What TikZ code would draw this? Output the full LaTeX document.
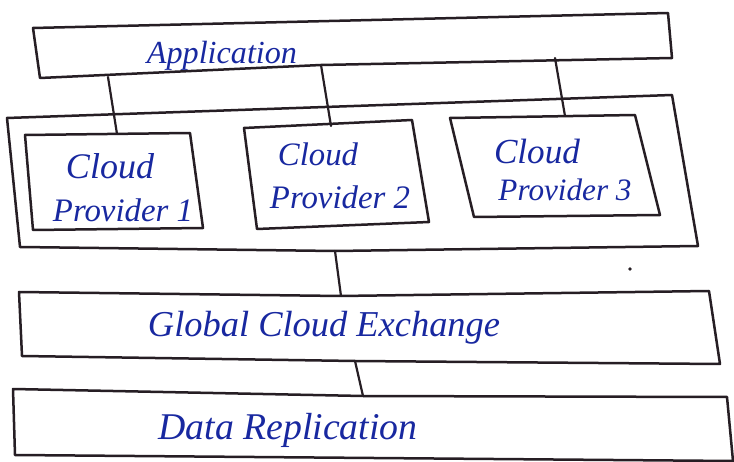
\documentclass[tikz,border=0pt]{standalone}
\usepackage{fontspec}
\setmainfont{Liberation Serif}
\usetikzlibrary{calc}
\definecolor{pen}{RGB}{38,30,36}
\definecolor{ink}{RGB}{24,40,160}
% handwritten-style label squeezed to a given width
\newcommand{\inkw}[2]{\resizebox{#1}{!}{\itshape #2}}

\begin{document}
\begin{tikzpicture}[x=1pt,y=-1pt,
  frame/.style={draw=pen, line width=2.5pt, line join=round, line cap=round},
  wire/.style={draw=pen, line width=2.2pt, line cap=round},
  label/.style={text=ink, inner sep=0pt, anchor=center}]
\useasboundingbox (0,0) rectangle (734,462);
\fill[white] (0,0) rectangle (734,462);

% ---- corner points of the boxes ----
% Application
\coordinate (appTL) at (33,28);
\coordinate (appTR) at (668,13); \coordinate (appBR) at (672,58);
\coordinate (appBM) at (321,65); \coordinate (appBL) at (40,78);
% provider group frame
\coordinate (grpTL) at (7,118);  \coordinate (grpTR) at (672,95);
\coordinate (grpBR) at (698,246); \coordinate (grpBM) at (335,251);
\coordinate (grpBL) at (20,247);
% Cloud Provider 1
\coordinate (p1TL) at (25,135);  \coordinate (p1TR) at (190,133);
\coordinate (p1BR) at (203,228); \coordinate (p1BL) at (33,230);
% Cloud Provider 2
\coordinate (p2TL) at (244,128); \coordinate (p2TR) at (412,120);
\coordinate (p2BR) at (429,222); \coordinate (p2BL) at (257,229);
% Cloud Provider 3
\coordinate (p3TL) at (450,118); \coordinate (p3TR) at (635,115);
\coordinate (p3BR) at (660,215); \coordinate (p3BL) at (474,217);
% Global Cloud Exchange
\coordinate (gceTL) at (19,292);  \coordinate (gceTM) at (340,296);
\coordinate (gceTR) at (709,291); \coordinate (gceBR) at (720,364);
\coordinate (gceBM) at (355,361); \coordinate (gceBL) at (22,356);
% Data Replication
\coordinate (drTL) at (13,389);  \coordinate (drTM) at (363,396);
\coordinate (drTR) at (727,397); \coordinate (drBR) at (733,461);
\coordinate (drBL) at (15,455);

% ---- boxes ----
\draw[frame] (appTL) -- (appTR) -- (appBR) -- (appBM) -- (appBL) -- cycle;
\draw[frame] (grpTL) -- (grpTR) -- (grpBR) -- (grpBM) -- (grpBL) -- cycle;
\draw[frame] (p1TL) -- (p1TR) -- (p1BR) -- (p1BL) -- cycle;
\draw[frame] (p2TL) -- (p2TR) -- (p2BR) -- (p2BL) -- cycle;
\draw[frame] (p3TL) -- (p3TR) -- (p3BR) -- (p3BL) -- cycle;
\draw[frame] (gceTL) -- (gceTM) -- (gceTR) -- (gceBR) -- (gceBM) -- (gceBL) -- cycle;
\draw[frame] (drTL) -- (drTM) -- (drTR) -- (drBR) -- (drBL) -- cycle;

% ---- connector end points ----
\coordinate (w1a) at (108,77);  \coordinate (w1b) at (117,134);
\coordinate (w2a) at (appBM);   \coordinate (w2b) at (331,126);
\coordinate (w3a) at (555,58);  \coordinate (w3b) at (565,116);

% ---- connectors ----
\draw[wire] (w1a) -- (w1b);
\draw[wire] (w2a) -- (w2b);
\draw[wire] (w3a) -- (w3b);
\draw[wire] (grpBM) -- ($(gceTM)+(1,0)$);
\draw[wire] (gceBM) -- (drTM);

% stray pen dot
\fill[pen] (630,269) circle (1.8);

% ---- labels ----
\node[label] (lapp) at (222,56) {\inkw{150pt}{Application}};
\node[label] (lp1a) at (110,166) {\inkw{88pt}{Cloud}};
\node[label] (lp1b) at (123,210) {\inkw{140pt}{Provider 1}};
\node[label] (lp2a) at (318,154) {\inkw{80pt}{Cloud}};
\node[label] (lp2b) at (340,197) {\inkw{140pt}{Provider 2}};
\node[label] (lp3a) at (537,152) {\inkw{86pt}{Cloud}};
\node[label] (lp3b) at (565,190) {\inkw{133pt}{Provider 3}};
\node[label] (lgce) at (324,328) {\inkw{352pt}{Global Cloud Exchange}};
\node[label] (ldr)  at (288,430) {\inkw{259pt}{Data Replication}};
\end{tikzpicture}
\end{document}
